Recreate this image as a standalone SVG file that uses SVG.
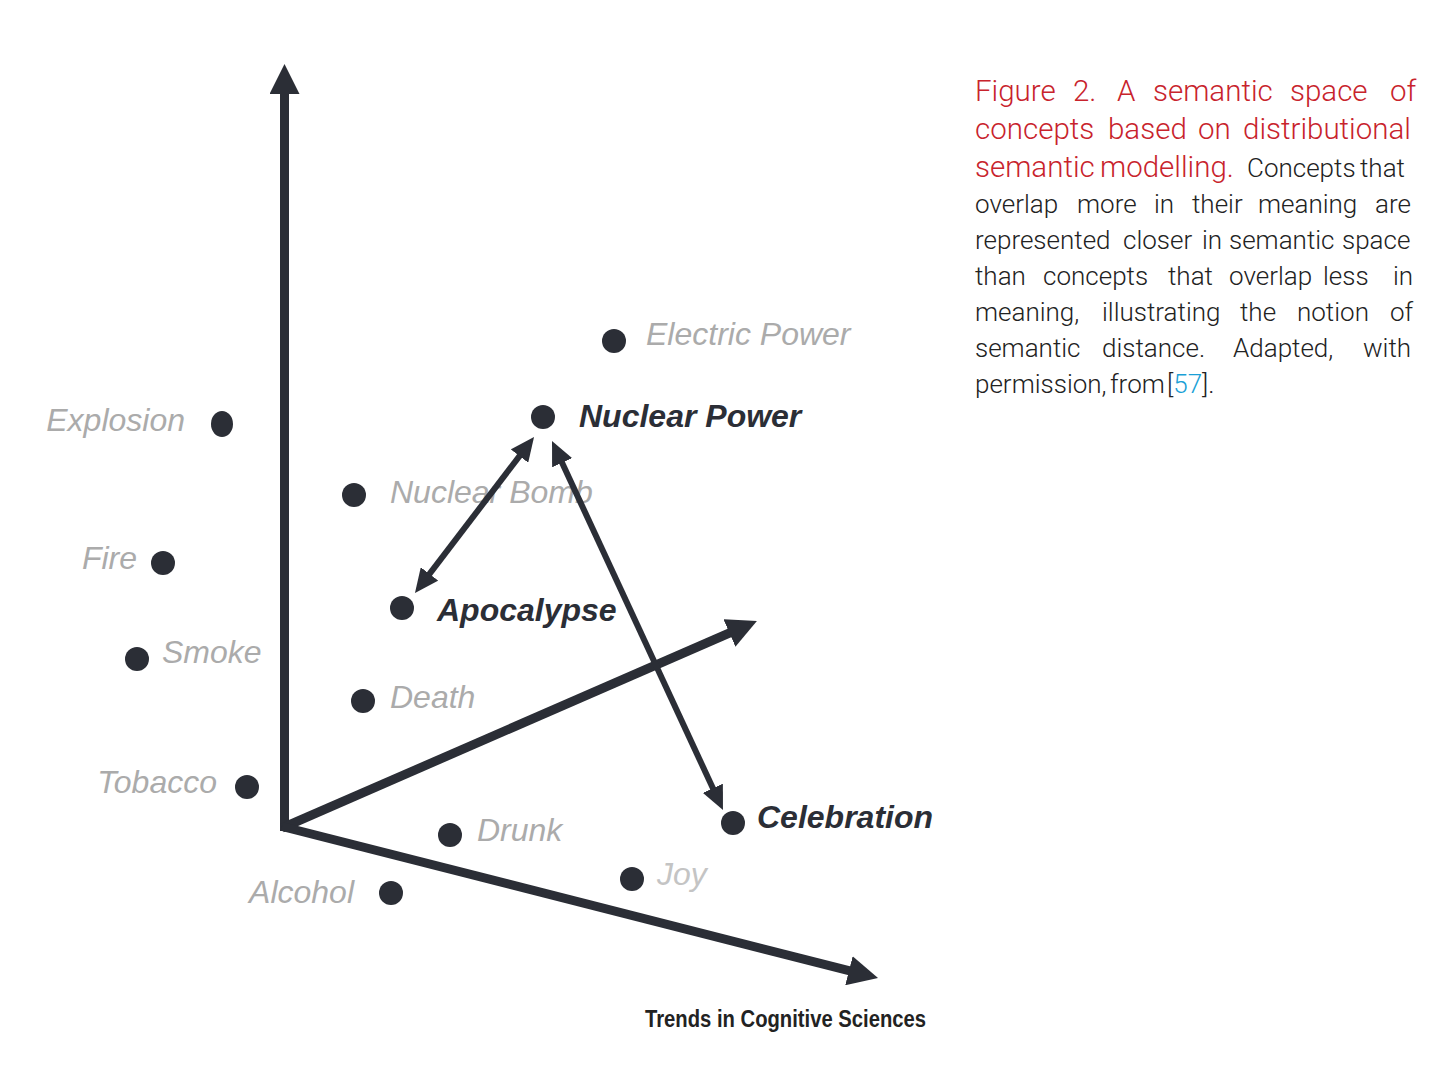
<svg xmlns="http://www.w3.org/2000/svg" width="1456" height="1084" viewBox="0 0 1456 1084">
<style>
.ax{stroke:#2b2e36;stroke-width:9;fill:none;stroke-linejoin:miter}
.dl{stroke:#2b2e36;stroke-width:6;fill:none}
.dot{fill:#2b2e36}
.lg{font-family:"Liberation Sans",Arial,sans-serif;font-style:italic;font-size:32px;fill:#ababab}
.lb{font-family:"Liberation Sans",Arial,sans-serif;font-style:italic;font-weight:bold;font-size:32px;fill:#2b2e36}
.cr{font-family:Roboto,"Liberation Sans",sans-serif;font-weight:300;font-size:29.5px;fill:#c8232c}
.cb{font-family:Roboto,"Liberation Sans",sans-serif;font-weight:300;font-size:26px;fill:#222}
.src{font-family:"Liberation Sans",Arial,sans-serif;font-weight:bold;font-size:23px;fill:#222}
</style>
<defs>
<marker id="big" markerUnits="userSpaceOnUse" markerWidth="30" markerHeight="30" refX="5" refY="15" orient="auto" viewBox="0 0 30 30">
<path d="M0,0 L30,15 L0,30 z" fill="#2b2e36"/>
</marker>
<marker id="sm" markerUnits="userSpaceOnUse" markerWidth="24" markerHeight="22" refX="5" refY="11" orient="auto-start-reverse" viewBox="0 0 24 22">
<path d="M0,0 L24,11 L0,22 z" fill="#2b2e36"/>
</marker>
</defs>
<rect width="1456" height="1084" fill="#fff"/>
<g id="electric-power"><circle class="dot" cx="614" cy="341" r="12"/><text class="lg" x="646" y="345">Electric Power</text></g>
<g id="nuclear-power"><circle class="dot" cx="543" cy="417" r="12"/><text class="lb" x="579" y="427">Nuclear Power</text></g>
<g id="explosion"><ellipse class="dot" cx="222" cy="424" rx="11" ry="13"/><text class="lg" x="185" y="431" text-anchor="end">Explosion</text></g>
<g id="nuclear-bomb"><circle class="dot" cx="354" cy="495" r="12"/><text class="lg" x="390" y="503">Nuclear Bomb</text></g>
<g id="fire"><circle class="dot" cx="163" cy="563" r="12"/><text class="lg" x="137" y="569" text-anchor="end">Fire</text></g>
<g id="apocalypse"><circle class="dot" cx="402" cy="608" r="12"/><text class="lb" x="437" y="621">Apocalypse</text></g>
<g id="smoke"><circle class="dot" cx="137" cy="659" r="12"/><text class="lg" x="162" y="663">Smoke</text></g>
<g id="death"><circle class="dot" cx="363" cy="701" r="12"/><text class="lg" x="390" y="708">Death</text></g>
<g id="tobacco"><circle class="dot" cx="247" cy="787" r="12"/><text class="lg" x="217" y="793" text-anchor="end">Tobacco</text></g>
<g id="drunk"><circle class="dot" cx="450" cy="835" r="12"/><text class="lg" x="477" y="841">Drunk</text></g>
<g id="celebration"><circle class="dot" cx="733" cy="823" r="12"/><text class="lb" x="757" y="828">Celebration</text></g>
<g id="joy"><circle class="dot" cx="632" cy="879" r="12"/><text class="lg" x="657" y="885" style="fill:#c4c4c4">Joy</text></g>
<g id="alcohol"><circle class="dot" cx="391" cy="893" r="12"/><text class="lg" x="354" y="903" text-anchor="end">Alcohol</text></g>
<g id="connectors">
<line class="ax" x1="284.5" y1="831" x2="284.5" y2="89" marker-end="url(#big)"/>
<line class="ax" x1="282" y1="828" x2="734" y2="631" marker-end="url(#big)"/>
<line class="ax" x1="282" y1="826.5" x2="853.8" y2="971.9" marker-end="url(#big)"/>
<line class="dl" x1="522.5" y1="452.1" x2="426.5" y2="577.9" marker-start="url(#sm)" marker-end="url(#sm)"/>
<line class="dl" x1="560" y1="458.2" x2="715" y2="792.8" marker-start="url(#sm)" marker-end="url(#sm)"/>
</g>
<text class="src" x="645" y="1027" textLength="281" lengthAdjust="spacingAndGlyphs">Trends in Cognitive Sciences</text>
<g id="caption">
<text class="cr" y="101"><tspan x="975">Figure</tspan><tspan x="1073">2.</tspan><tspan x="1117">A</tspan><tspan x="1153">semantic</tspan><tspan x="1290">space</tspan><tspan x="1390">of</tspan></text>
<text class="cr" y="139"><tspan x="975">concepts</tspan><tspan x="1108">based</tspan><tspan x="1198">on</tspan><tspan x="1243">distributional</tspan></text>
<text class="cr" y="177"><tspan x="975">semantic</tspan><tspan x="1100">modelling.</tspan></text>
<text class="cb" y="177"><tspan x="1247">Concepts</tspan><tspan x="1360">that</tspan></text>
<text class="cb" y="213"><tspan x="975">overlap</tspan><tspan x="1077">more</tspan><tspan x="1154">in</tspan><tspan x="1192">their</tspan><tspan x="1258">meaning</tspan><tspan x="1375">are</tspan></text>
<text class="cb" y="249"><tspan x="975">represented</tspan><tspan x="1123">closer</tspan><tspan x="1202">in</tspan><tspan x="1229">semantic</tspan><tspan x="1342">space</tspan></text>
<text class="cb" y="285"><tspan x="975">than</tspan><tspan x="1043">concepts</tspan><tspan x="1168">that</tspan><tspan x="1229">overlap</tspan><tspan x="1323">less</tspan><tspan x="1393">in</tspan></text>
<text class="cb" y="321"><tspan x="975">meaning,</tspan><tspan x="1102">illustrating</tspan><tspan x="1240">the</tspan><tspan x="1297">notion</tspan><tspan x="1390">of</tspan></text>
<text class="cb" y="357"><tspan x="975">semantic</tspan><tspan x="1102">distance.</tspan><tspan x="1233">Adapted,</tspan><tspan x="1363">with</tspan></text>
<text class="cb" y="393"><tspan x="975">permission,</tspan><tspan x="1110">from</tspan><tspan x="1167">[<tspan fill="#1a9fd6">57</tspan>].</tspan></text>
</g>
</svg>
